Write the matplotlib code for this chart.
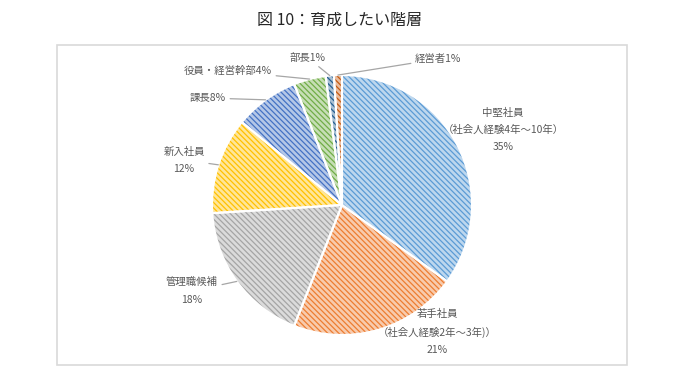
import matplotlib
matplotlib.use("Agg")
import matplotlib.pyplot as plt
from matplotlib.patches import Rectangle
import numpy as np

plt.rcParams['font.family'] = ['Noto Sans CJK JP', 'DejaVu Sans']
plt.rcParams['hatch.linewidth'] = 0.9

title = "図 10：育成したい階層"
categories = ["中堅社員\n（社会人経験4年～10年）", "若手社員\n（社会人経験2年～3年)）", "管理職候補",
              "新入社員", "課長", "役員・経営幹部", "部長", "経営者"]
values = [35, 21, 18, 12, 8, 4, 1, 1]
colors = ["#5B9BD5", "#ED7D31", "#A5A5A5", "#FFC000", "#4472C4", "#70AD47", "#255E91", "#C55A11"]
# label style: 'stack' -> name above percentage, 'inline' -> name+percentage
label_style = ["stack", "stack", "stack", "stack", "inline", "inline", "inline", "inline"]

W, H = 681, 381
fig = plt.figure(figsize=(W / 100, H / 100), dpi=100)

# outer chart border
border = Rectangle((57 / W, 1 - 365 / H), 570 / W, 320 / H, transform=fig.transFigure,
                   facecolor="none", edgecolor="#D9D9D9", linewidth=1.2, zorder=-10)
fig.add_artist(border)

fig.text(340 / W, 1 - 20 / H, title, ha="center", va="center", fontsize=11.5, color="#262626")

cx, cy, r = 342, 205, 130
ax = fig.add_axes([(cx - r) / W, 1 - (cy + r) / H, 2 * r / W, 2 * r / H])
ax.patch.set_visible(False)


def lighten(c, f):
    rgb = np.array(matplotlib.colors.to_rgb(c))
    return tuple(rgb + (1 - rgb) * f)


wedges, _ = ax.pie(values, startangle=90, counterclock=False, radius=1,
                   colors=[lighten(c, 0.6) for c in colors],
                   wedgeprops=dict(linewidth=0))
for w, c in zip(wedges, colors):
    w.set_hatch("\\" * 6)
    w.set_edgecolor(c)
    w.set_linewidth(0)
ax.pie(values, startangle=90, counterclock=False, radius=1,
       colors=["none"] * len(values),
       wedgeprops=dict(linewidth=1.5, edgecolor="white", fill=False))
ax.set_xlim(-1, 1)
ax.set_ylim(-1, 1)
ax.set_aspect("equal")
ax.axis("off")


def px(x, y):
    return ((x - cx) / r, (cy - y) / r)


# label text positions (pixel coords -> data)
text_pos = [px(503, 130), px(437, 332), px(192, 291), px(184, 160),
            px(226, 98), px(272, 71), px(308, 58), px(415, 59)]
text_ha = ["center", "center", "center", "center", "right", "right", "center", "left"]
leader = [False, False, True, True, True, True, True, True]

total = sum(values)
cum = np.cumsum([0] + values)
lab_color = "#595959"
for i, (name, v) in enumerate(zip(categories, values)):
    mid = 90 - (cum[i] + v / 2) / total * 360
    ex, ey = np.cos(np.radians(mid)), np.sin(np.radians(mid))
    if label_style[i] == "stack":
        s = f"{name}\n{v}%"
    else:
        s = f"{name}{v}%"
    kw = dict(ha=text_ha[i], va="center", fontsize=7.5, color=lab_color,
              linespacing=1.9, annotation_clip=False, multialignment="center")
    if leader[i]:
        ax.annotate(s, xy=(ex, ey), xytext=text_pos[i],
                    arrowprops=dict(arrowstyle="-", color="#A6A6A6", lw=0.9,
                                    shrinkA=1, shrinkB=0), **kw)
    else:
        ax.annotate(s, xy=text_pos[i], xytext=text_pos[i], **kw)

fig.savefig("out.png", dpi=100)
